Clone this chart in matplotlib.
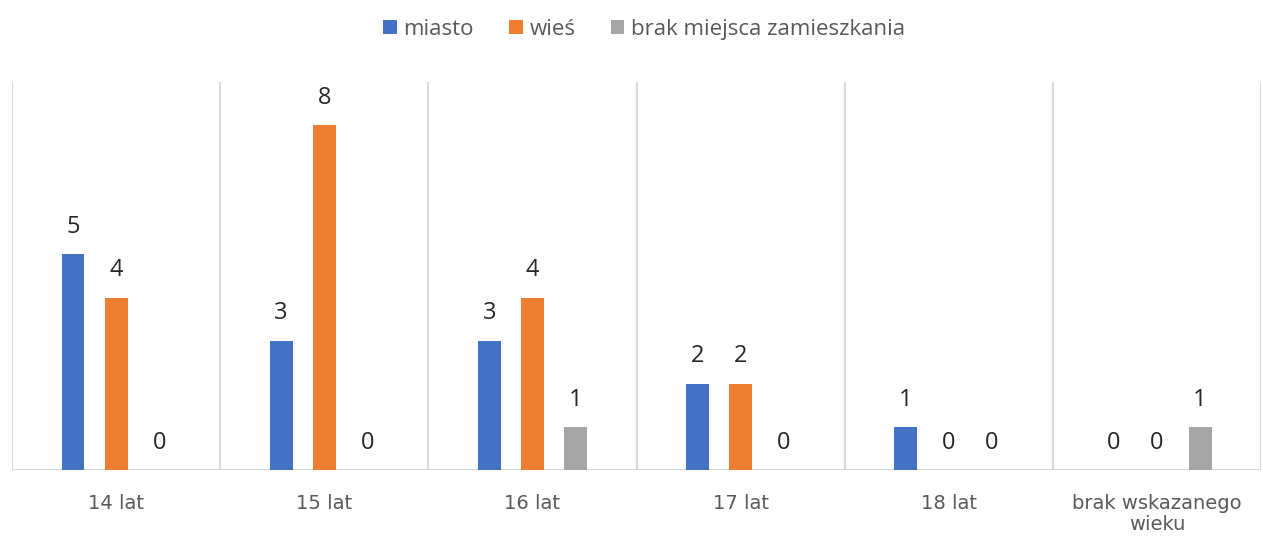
import numpy as np
import matplotlib.pyplot as plt

categories = ['14 lat', '15 lat', '16 lat', '17 lat', '18 lat', 'brak wskazanego\nwieku']
miasto = [5, 3, 3, 2, 1, 0]
wies = [4, 8, 4, 2, 0, 0]
brak = [0, 0, 1, 0, 0, 1]
series_names = ['miasto', 'wieś', 'brak miejsca zamieszkania']
colors = ['#4472c4', '#ed7d31', '#a5a5a5']

plt.rcParams['font.family'] = ['Open Sans', 'DejaVu Sans']

fig = plt.figure(figsize=(12.63, 5.37), dpi=100)
ax = fig.add_axes([0.0095, 0.1248, 0.9890, 0.7225])

x = np.arange(len(categories))
width = 0.11
step = 0.207
for k, (vals, name, c) in enumerate(zip([miasto, wies, brak], series_names, colors)):
    pos = x + (k - 1) * step
    bars = ax.bar(pos, vals, width, color=c, label=name)
    for b, v in zip(bars, vals):
        ax.annotate(str(v), (b.get_x() + b.get_width() / 2, v),
                    xytext=(0, 11), textcoords='offset points',
                    ha='center', va='bottom', fontsize=17, color='#262626')

ax.set_xlim(-0.5, len(categories) - 0.5)
ax.set_ylim(0, 9)
for b in np.arange(-0.5, len(categories), 1):
    ax.axvline(b, color='#d9d9d9', lw=1.5, zorder=0)
for s in ax.spines.values():
    s.set_visible(False)
ax.axhline(0, color='#d9d9d9', lw=1.5, zorder=0)
ax.set_yticks([])
ax.set_xticks(x)
ax.set_xticklabels(categories, fontsize=14, color='#595959', linespacing=1.15,
                   family='DejaVu Sans')
ax.tick_params(axis='x', length=0, pad=17)

fig.legend(loc='upper center', bbox_to_anchor=(0.51, 1.002), ncol=3, frameon=False,
           fontsize=16, labelcolor='#595959', handlelength=0.6, handleheight=0.6,
           handletextpad=0.3, columnspacing=1.6)

fig.savefig('out.png', dpi=100)
